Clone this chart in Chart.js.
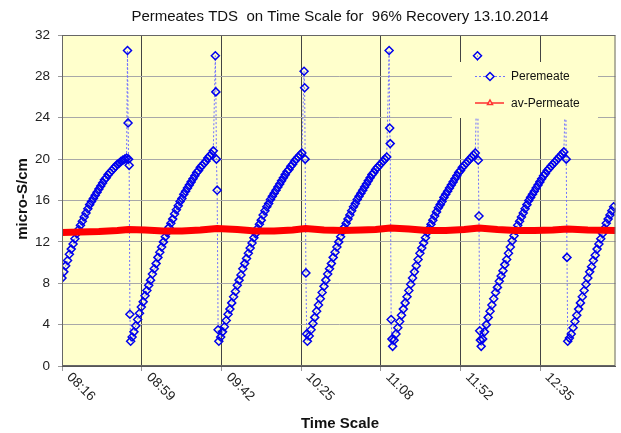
<!DOCTYPE html>
<html>
<head>
<meta charset="utf-8">
<script src="https://cdn.jsdelivr.net/npm/chart.js@4.4.0/dist/chart.umd.min.js"></script>
<style>
  html, body { margin: 0; padding: 0; background: #fff; }
  #wrap { width: 621px; height: 433px; position: relative; }
</style>
</head>
<body>
<div id="wrap"><canvas id="c"></canvas></div>
<script>
// ── Data (minutes after 08:16) ──
const times = [
    0,1,2,3,4,5,6,7,8,9,10,11,12,13,14,15,16,17,18,19,20,21,22,23,24,25,26,27,28,29,30,31,32,33,34,35,
    35.5,35.8,36.1,36.4,36.8,37.2,
    38,39,40,41,42,43,44,45,46,47,48,49,50,51,52,53,54,55,56,57,58,59,60,61,62,63,64,65,66,67,68,69,70,71,72,73,74,75,76,77,78,79,80,81,82,
    83.1,83.4,83.7,84.1,84.6,85.0,
    86,87,88,89,90,91,92,93,94,95,96,97,98,99,100,101,102,103,104,105,106,107,108,109,110,111,112,113,114,115,116,117,118,119,120,121,122,123,124,125,126,127,128,129,130,
    131.2,131.5,131.8,132.2,132.6,133.0,
    134,135,136,137,138,139,140,141,142,143,144,145,146,147,148,149,150,151,152,153,154,155,156,157,158,159,160,161,162,163,164,165,166,167,168,169,170,171,172,173,174,175,176,
    177.3,177.6,177.9,178.4,178.8,179.2,
    180,181,182,183,184,185,186,187,188,189,190,191,192,193,194,195,196,197,198,199,200,201,202,203,204,205,206,207,208,209,210,211,212,213,214,215,216,217,218,219,220,221,222,223,224,
    225.2,225.6,226.0,226.4,226.8,227.2,
    228,229,230,231,232,233,234,235,236,237,238,239,240,241,242,243,244,245,246,247,248,249,250,251,252,253,254,255,256,257,258,259,260,261,262,263,264,265,266,267,268,269,270,271,272,
    273.0,273.3,273.7,274.1,
    275,276,277,278,279,280,281,282,283,284,285,286,287,288,289,290,291,292,293,294,295,296,297,298,299
];
const permeate = [
    8.5,9.1,9.7,10.2,10.8,11.3,11.8,12.3,12.8,13.2,13.6,14.0,14.4,14.8,15.2,15.6,15.9,16.2,16.5,16.8,17.1,17.4,17.7,18.0,18.2,18.5,18.7,18.9,19.1,19.3,19.5,19.6,19.8,19.9,20.0,20.1,
    30.5,23.5,20.0,19.4,5.0,2.4,
    2.8,3.3,3.9,4.5,5.1,5.7,6.2,6.8,7.3,7.8,8.3,8.9,9.4,9.9,10.5,11.0,11.5,12.0,12.5,12.9,13.4,13.8,14.2,14.7,15.1,15.5,15.9,16.2,16.6,16.9,17.2,17.5,17.8,18.1,18.4,18.7,18.9,19.2,19.4,19.6,19.8,20.1,20.3,20.5,20.8,
    30.0,26.5,20.0,17.0,3.5,2.4,
    2.8,3.3,3.8,4.4,5.0,5.5,6.1,6.7,7.2,7.8,8.3,8.8,9.4,9.9,10.4,10.9,11.4,11.9,12.4,12.8,13.3,13.7,14.1,14.6,15.0,15.4,15.7,16.1,16.4,16.7,17.0,17.3,17.6,17.9,18.2,18.5,18.8,19.0,19.3,19.5,19.8,20.0,20.2,20.4,20.6,
    28.5,26.9,20.0,9.0,3.1,2.4,
    2.9,3.5,4.1,4.7,5.3,5.9,6.5,7.1,7.7,8.3,8.9,9.4,9.9,10.5,11.0,11.5,12.0,12.5,13.0,13.4,13.8,14.2,14.6,15.0,15.4,15.7,16.1,16.4,16.7,17.0,17.3,17.6,17.9,18.2,18.5,18.7,19.0,19.2,19.4,19.6,19.8,20.0,20.2,
    30.5,23.0,21.5,4.5,2.6,1.9,
    2.5,3.1,3.7,4.3,4.9,5.5,6.1,6.7,7.3,7.9,8.5,9.1,9.7,10.3,10.9,11.4,11.9,12.4,12.9,13.3,13.7,14.1,14.5,14.9,15.3,15.6,15.9,16.3,16.6,16.9,17.2,17.5,17.8,18.1,18.4,18.7,18.9,19.2,19.4,19.6,19.8,20.0,20.2,20.4,20.6,
    30.0,19.9,14.5,3.4,2.5,1.9,
    2.6,3.3,4.0,4.7,5.3,5.9,6.5,7.1,7.6,8.2,8.7,9.2,9.8,10.3,10.9,11.5,12.1,12.6,13.1,13.6,14.0,14.4,14.8,15.2,15.6,16.0,16.3,16.6,16.9,17.2,17.5,17.8,18.1,18.4,18.6,18.9,19.1,19.3,19.5,19.7,19.9,20.1,20.3,20.5,20.7,
    27.0,20.0,10.5,2.4,
    2.7,3.1,3.7,4.3,4.9,5.5,6.1,6.7,7.3,7.9,8.5,9.1,9.6,10.2,10.7,11.3,11.8,12.3,12.8,13.3,13.8,14.2,14.6,15.0,15.4
];
const avTimes = [0,10,20,30,36,45,55,65,75,84,95,105,115,125,132,142,152,162,170,178,188,198,208,218,226,236,246,256,266,274,285,300];
const avPermeate = [12.9,12.95,13.0,13.1,13.2,13.15,13.05,13.05,13.15,13.3,13.2,13.05,13.05,13.15,13.3,13.15,13.1,13.15,13.2,13.35,13.25,13.1,13.1,13.2,13.35,13.2,13.1,13.1,13.15,13.25,13.15,13.1];
const tickMinutes = [0, 43.2, 86.4, 129.6, 172.8, 216, 259.2];
const tickLabels = ['08:16', '08:59', '09:42', '10:25', '11:08', '11:52', '12:35'];

const FONT = '"Liberation Sans", Arial, sans-serif';
const YELLOW = '#ffffcc';

// ── Fondo, leyenda, títulos ──
const decor = {
    id: 'decor',
    beforeDraw(chart) {
        const { ctx, chartArea: a } = chart;
        ctx.save();
        ctx.fillStyle = YELLOW;
        ctx.fillRect(a.left, a.top, a.right - a.left, a.bottom - a.top);
        ctx.restore();
    },
    afterDatasetsDraw(chart) {
        const ctx = chart.ctx;
        ctx.save();
        ctx.fillStyle = YELLOW;
        ctx.fillRect(452, 62, 146, 56);
        // Peremeate
        ctx.strokeStyle = '#7070ff';
        ctx.lineWidth = 1;
        ctx.setLineDash([2, 2]);
        ctx.beginPath(); ctx.moveTo(475, 76.5); ctx.lineTo(505, 76.5); ctx.stroke();
        ctx.setLineDash([]);
        ctx.strokeStyle = '#0000ee';
        ctx.lineWidth = 1.5;
        ctx.beginPath();
        ctx.moveTo(490, 72.5); ctx.lineTo(494, 76.5); ctx.lineTo(490, 80.5); ctx.lineTo(486, 76.5); ctx.closePath();
        ctx.fillStyle = YELLOW; ctx.fill(); ctx.stroke();
        // av-Permeate
        ctx.strokeStyle = '#ff3030';
        ctx.lineWidth = 1.5;
        ctx.beginPath(); ctx.moveTo(475, 103); ctx.lineTo(504, 103); ctx.stroke();
        ctx.beginPath();
        ctx.moveTo(490, 100); ctx.lineTo(492.5, 104.5); ctx.lineTo(487.5, 104.5); ctx.closePath();
        ctx.fill(); ctx.stroke();
        ctx.fillStyle = '#111';
        ctx.font = '12px ' + FONT;
        ctx.textBaseline = 'middle';
        ctx.textAlign = 'left';
        ctx.fillText('Peremeate', 511, 77);
        ctx.fillText('av-Permeate', 511, 103.5);
        ctx.restore();
    },
    afterDraw(chart) {
        const { ctx, chartArea: a } = chart;
        const xs = chart.scales.x;
        ctx.save();
        ctx.strokeStyle = '#666';
        ctx.lineWidth = 1;
        ctx.strokeRect(a.left + 0.5, a.top + 0.5, a.right - a.left - 1, a.bottom - a.top - 1);
        ctx.fillStyle = '#111';
        ctx.textBaseline = 'middle';
        ctx.textAlign = 'center';
        ctx.font = '15px ' + FONT;
        ctx.fillText('Permeates TDS  on Time Scale for  96% Recovery 13.10.2014', 340, 17);
        ctx.font = 'bold 15px ' + FONT;
        ctx.fillText('Time Scale', 340, 424);
        ctx.save();
        ctx.translate(23, 199);
        ctx.rotate(-Math.PI / 2);
        ctx.fillText('micro-S/cm', 0, 0);
        ctx.restore();
        // etiquetas de hora inclinadas
        ctx.font = '13.5px ' + FONT;
        ctx.fillStyle = '#222';
        ctx.textAlign = 'left';
        tickMinutes.forEach(function (m, i) {
            const px = xs.getPixelForValue(m);
            ctx.save();
            ctx.translate(px + 7, a.bottom + 9);
            ctx.rotate(Math.PI / 4);
            ctx.fillText(tickLabels[i], 0, 0);
            ctx.restore();
        });
        ctx.restore();
    }
};

new Chart(document.getElementById('c'), {
    type: 'scatter',
    data: {
        datasets: [
            {
                label: 'av-Permeate',
                data: avTimes.map((t, i) => ({ x: t, y: avPermeate[i] })),
                showLine: true,
                borderColor: '#ff0000',
                borderWidth: 7,
                pointRadius: 0,
                order: 0
            },
            {
                label: 'Peremeate',
                data: times.map((t, i) => ({ x: t, y: permeate[i] })),
                showLine: true,
                borderColor: '#7070ff',
                borderWidth: 1,
                borderDash: [2, 2],
                pointStyle: 'rectRot',
                pointRadius: 4,
                pointBorderWidth: 1.5,
                pointBorderColor: '#0000ee',
                pointBackgroundColor: 'rgba(0,0,0,0)',
                order: 1
            }
        ]
    },
    options: {
        responsive: true,
        maintainAspectRatio: false,
        animation: false,
        layout: { padding: { top: 35, right: 1, left: 0, bottom: 0 } },
        plugins: { legend: { display: false }, tooltip: { enabled: false } },
        scales: {
            x: {
                type: 'linear',
                min: 0,
                max: 300,
                afterBuildTicks: s => { s.ticks = tickMinutes.map(v => ({ value: v })); },
                afterFit: s => { s.height = 67; },
                ticks: { display: false },
                grid: { color: '#444', lineWidth: 1, tickLength: 5, tickColor: '#999' },
                border: { color: '#555' }
            },
            y: {
                min: 0,
                max: 32,
                afterFit: s => { s.width = 62; },
                ticks: { stepSize: 4, padding: 8, color: '#222', font: { family: FONT, size: 13.5 } },
                grid: { color: '#a8a8a8', lineWidth: 1, tickLength: 4, tickColor: '#999' },
                border: { color: '#555' }
            }
        }
    },
    plugins: [decor]
});
</script>
</body>
</html>
